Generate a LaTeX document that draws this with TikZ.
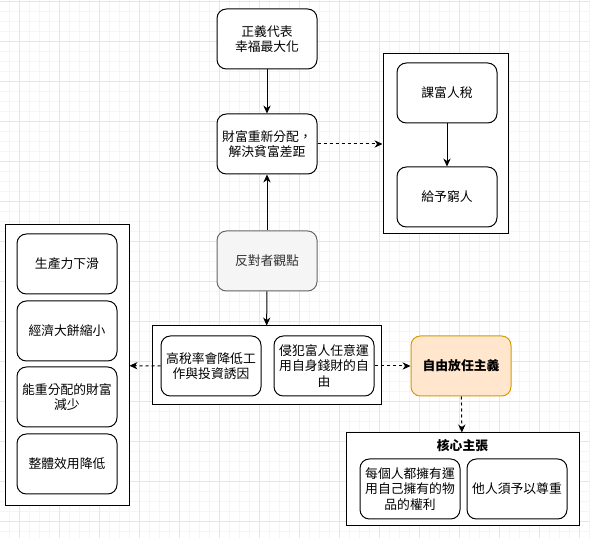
\documentclass[tikz,border=0pt]{standalone}
\usepackage{fontspec}
\setmainfont{Noto Sans CJK TC}
\usetikzlibrary{arrows.meta}
\definecolor{gridmin}{HTML}{F5F5F5}
\definecolor{gridmaj}{HTML}{E6E6E6}
\definecolor{oppfill}{HTML}{F5F5F5}
\definecolor{oppline}{HTML}{666666}
\definecolor{opptext}{HTML}{333333}
\definecolor{lffill}{HTML}{FFE6CC}
\definecolor{lfline}{HTML}{D79B00}
\tikzset{
  box/.style={draw=black, line width=0.75pt, rounded corners=7pt, fill=white,
    minimum width=75pt, minimum height=45pt, align=center, inner sep=1pt,
    font=\fontsize{9.6pt}{11.5pt}\selectfont},
  container/.style={draw=black, line width=0.75pt, fill=white, inner sep=0pt},
  solidarrow/.style={line width=0.75pt, -{Stealth[length=6pt,width=5.5pt]}},
  dasharrow/.style={line width=0.75pt, dash pattern=on 2.25pt off 2.25pt, -{Stealth[length=6pt,width=5.5pt]}},
}
\begin{document}
\begin{tikzpicture}[x=0.75pt,y=-0.75pt]
\useasboundingbox (0,0) rectangle (590,538);
\fill[white] (0,0) rectangle (590,538);
% grid
\foreach \gx in {-0.7,9.3,...,590} {\draw[gridmin, line width=0.75pt] (\gx,0) -- (\gx,538);}
\foreach \gy in {1.3,11.3,...,538} {\draw[gridmin, line width=0.75pt] (0,\gy) -- (590,\gy);}
\foreach \gx in {19.3,59.3,...,590} {\draw[gridmaj, line width=0.75pt] (\gx,0) -- (\gx,538);}
\foreach \gy in {1.3,41.3,...,538} {\draw[gridmaj, line width=0.75pt] (0,\gy) -- (590,\gy);}

% containers
\node[container, minimum width=93.75pt, minimum height=135pt] (rc) at (445.5,144) {};
\node[container, minimum width=171.75pt, minimum height=59.25pt] (mc) at (266.5,365.5) {};
\node[container, minimum width=93pt, minimum height=210.75pt] (lc) at (67,365.5) {};
\node[container, minimum width=174.75pt, minimum height=69.75pt] (cc) at (462.5,479.5) {};

% top nodes
\node[box] (n1) at (267,39) {正義代表\\幸福最大化};
\node[box] (n2) at (267,144) {財富重新分配，\\解決貧富差距};
\node[box] (r1) at (447,93) {課富人稅};
\node[box] (r2) at (447,197) {給予窮人};
\node[box, fill=oppfill, draw=oppline, text=opptext] (opp) at (267,261) {反對者觀點};

% middle
\node[box] (m1) at (211,366) {高稅率會降低工\\作與投資誘因};
\node[box] (m2) at (324,366) {侵犯富人任意運\\用自身錢財的自\\由};
\node[box, fill=lffill, draw=lfline, font=\fontsize{9.6pt}{11.5pt}\selectfont\bfseries] (lf) at (461,366) {自由放任主義};

% left
\node[box] (l1) at (67,264) {生產力下滑};
\node[box] (l2) at (67,331) {經濟大餅縮小};
\node[box] (l3) at (67,397) {能重分配的財富\\減少};
\node[box] (l4) at (67,464) {整體效用降低};

% core
\node[font=\fontsize{9.6pt}{11.5pt}\selectfont\bfseries] (ct) at (462.5,446) {核心主張};
\node[box] (c1) at (410,489) {每個人都擁有運\\用自己擁有的物\\品的權利};
\node[box] (c2) at (517,489) {他人須予以尊重};

% connectors
\draw[solidarrow] (n1) -- (n2);
\draw[solidarrow] (opp) -- (n2);
\draw[solidarrow] (opp) -- (mc);
\draw[dasharrow] (n2) -- (rc);
\draw[solidarrow] (r1) -- (r2);
\draw[dasharrow] (m1) -- (lc);
\draw[dasharrow] (m2) -- (lf);
\draw[dasharrow] (lf) -- (cc);
\end{tikzpicture}
\end{document}
